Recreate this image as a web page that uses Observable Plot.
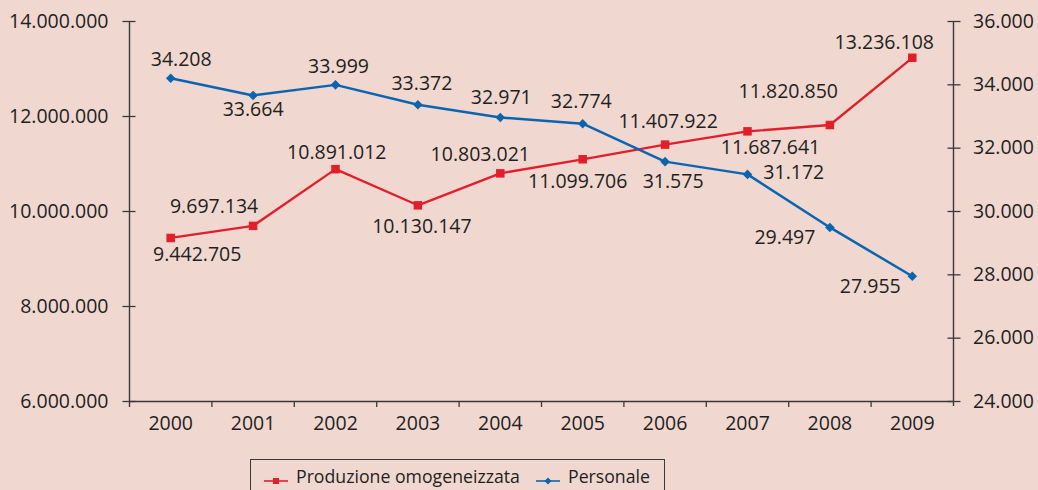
<!DOCTYPE html>
<html>
<head>
<meta charset="utf-8">
<script src="https://cdn.jsdelivr.net/npm/d3@7"></script>
<script src="https://cdn.jsdelivr.net/npm/@observablehq/plot@0.6"></script>
<style>
  html, body { margin: 0; padding: 0; overflow: hidden; background: #f0d7d0; width: 1038px; height: 490px; }
  body { font-family: "Open Sans", sans-serif; color: #231f20; position: relative; }
  #chart { position: absolute; left: 0; top: 0; }
  #legend { position: absolute; left: 250px; top: 459px; width: 415px; height: 44px; box-sizing: border-box; border: 1.3px solid #3a3a3a; }
  #legend .sym { position: absolute; top: 10px; }
  #legend .lab { position: absolute; top: 8px; font-size: 17.7px; line-height: 1; white-space: nowrap; color: #231f20; }
</style>
</head>
<body>
<div id="chart"></div>
<div id="legend"></div>
<script>
// ---- Data ----
const years = [2000, 2001, 2002, 2003, 2004, 2005, 2006, 2007, 2008, 2009];
const produzione = [9442705, 9697134, 10891012, 10130147, 10803021, 11099706, 11407922, 11687641, 11820850, 13236108];
const personale = [34208, 33664, 33999, 33372, 32971, 32774, 31575, 31172, 29497, 27955];
const leftTicks = [6000000, 8000000, 10000000, 12000000, 14000000];
const rightTicks = [24000, 26000, 28000, 30000, 32000, 34000, 36000];
const seriesNames = ["Produzione omogeneizzata", "Personale"];

// ---- Layout / style (not data) ----
const RED = "#e31e2a";
const BLUE = "#0a65b1";
const AXIS = "#3a3a3a";
const TEXT = "#231f20";
const FS = 19.5;

const leftDomain = [6000000, 14000000];
const rightDomain = [24000, 36000];
const toLeft = v => leftDomain[0] + (v - rightDomain[0]) * (leftDomain[1] - leftDomain[0]) / (rightDomain[1] - rightDomain[0]);
const fromLeft = v => rightDomain[0] + (v - leftDomain[0]) * (rightDomain[1] - rightDomain[0]) / (leftDomain[1] - leftDomain[0]);

const locale = d3.formatLocale({decimal: ",", thousands: ".", grouping: [3], currency: ["", "€"]});
const fmt = locale.format(",d");

const redRows = years.map((year, i) => ({year, v: produzione[i], label: fmt(produzione[i])}));
const blueRows = years.map((year, i) => ({year, v: toLeft(personale[i]), label: fmt(personale[i])}));

// label offsets in pixels (layout), [dx, dy]
const redOff = [[26.5, 16.5], [-39, -19.6], [1.3, -16], [4, 21], [-20, -18.3], [-5, 22], [3, -23.3], [23, 16], [-41.6, -33.7], [-28, -15.3]];
const blueOff = [[10.5, -18], [0, 14], [3, -18], [4, -21], [1, -20], [-1.4, -22.4], [8, 19.7], [46.3, -2], [-45, 10], [-42, 10]];

const boundaries = years.slice(0, -1).map(y => y + 0.5);
const xDomain = [years[0] - 0.5, years[years.length - 1] + 0.5];

const labelMarks = [
  ...redRows.map((d, i) => Plot.text([d], {x: "year", y: "v", text: "label", dx: redOff[i][0], dy: redOff[i][1], fontSize: FS, fill: TEXT})),
  ...blueRows.map((d, i) => Plot.text([d], {x: "year", y: "v", text: "label", dx: blueOff[i][0], dy: blueOff[i][1], fontSize: FS, fill: TEXT}))
];

const chart = Plot.plot({
  width: 1038,
  height: 450,
  marginLeft: 129,
  marginRight: 85,
  marginTop: 21,
  marginBottom: 49,
  style: {background: "transparent", fontFamily: "Open Sans, sans-serif", fontSize: FS + "px", color: TEXT},
  x: {domain: xDomain, label: null},
  y: {domain: leftDomain, label: null},
  marks: [
    // axis lines
    Plot.ruleY([leftDomain[0]], {stroke: AXIS, strokeWidth: 1.4}),
    Plot.ruleX([xDomain[0]], {stroke: AXIS, strokeWidth: 1.4, insetBottom: -6}),
    Plot.ruleX([xDomain[1]], {stroke: AXIS, strokeWidth: 1.4, insetBottom: -5}),
    // left axis ticks (crossing) and labels
    Plot.axisY({anchor: "left", ticks: leftTicks, tickSize: 13, dx: 6.5, tickFormat: () => "", stroke: AXIS, strokeWidth: 1.3, label: null}),
    Plot.axisY({anchor: "left", ticks: leftTicks, tickSize: 0, tickPadding: 21, tickFormat: fmt, fill: TEXT, fontSize: FS, label: null}),
    // right axis ticks (crossing) and labels
    Plot.axisY({anchor: "right", ticks: rightTicks.map(toLeft), tickSize: 13, dx: -6.5, tickFormat: () => "", stroke: AXIS, strokeWidth: 1.3, label: null}),
    Plot.axisY({anchor: "right", ticks: rightTicks.map(toLeft), tickSize: 0, tickPadding: 19.5, tickFormat: d => fmt(Math.round(fromLeft(d))), fill: TEXT, fontSize: FS, label: null}),
    // x axis ticks at category boundaries and labels at centers
    Plot.axisX({anchor: "bottom", ticks: boundaries, tickSize: 6, tickFormat: () => "", stroke: AXIS, strokeWidth: 1.3, label: null}),
    Plot.axisX({anchor: "bottom", ticks: years, tickSize: 0, tickPadding: 15, tickFormat: d => String(d), fill: TEXT, fontSize: FS, label: null}),
    // series
    Plot.line(redRows, {x: "year", y: "v", stroke: RED, strokeWidth: 2.3}),
    Plot.dot(redRows, {x: "year", y: "v", symbol: "square", r: 4.8, fill: RED, stroke: null}),
    Plot.line(blueRows, {x: "year", y: "v", stroke: BLUE, strokeWidth: 2.5}),
    Plot.dot(blueRows, {x: "year", y: "v", symbol: "diamond2", r: 4.3, fill: BLUE, stroke: null}),
    ...labelMarks
  ]
});
document.getElementById("chart").appendChild(chart);

// ---- Legend ----
const legend = document.getElementById("legend");
const items = [
  {name: seriesNames[0], color: RED, sym: "square", symLeft: 13, textLeft: 45},
  {name: seriesNames[1], color: BLUE, sym: "diamond", symLeft: 285, textLeft: 317}
];
for (const it of items) {
  const shape = it.sym === "square"
    ? `<rect x="9" y="3" width="6" height="6" fill="${it.color}"/>`
    : `<path d="M12 2.5 L15.5 6 L12 9.5 L8.5 6 Z" fill="${it.color}"/>`;
  const s = document.createElement("div");
  s.className = "sym";
  s.style.left = it.symLeft + "px";
  s.innerHTML = `<svg width="24" height="12"><line x1="0" y1="6" x2="24" y2="6" stroke="${it.color}" stroke-width="1.6"/>${shape}</svg>`;
  legend.appendChild(s);
  const t = document.createElement("div");
  t.className = "lab";
  t.style.left = it.textLeft + "px";
  t.textContent = it.name;
  legend.appendChild(t);
}
</script>
</body>
</html>
